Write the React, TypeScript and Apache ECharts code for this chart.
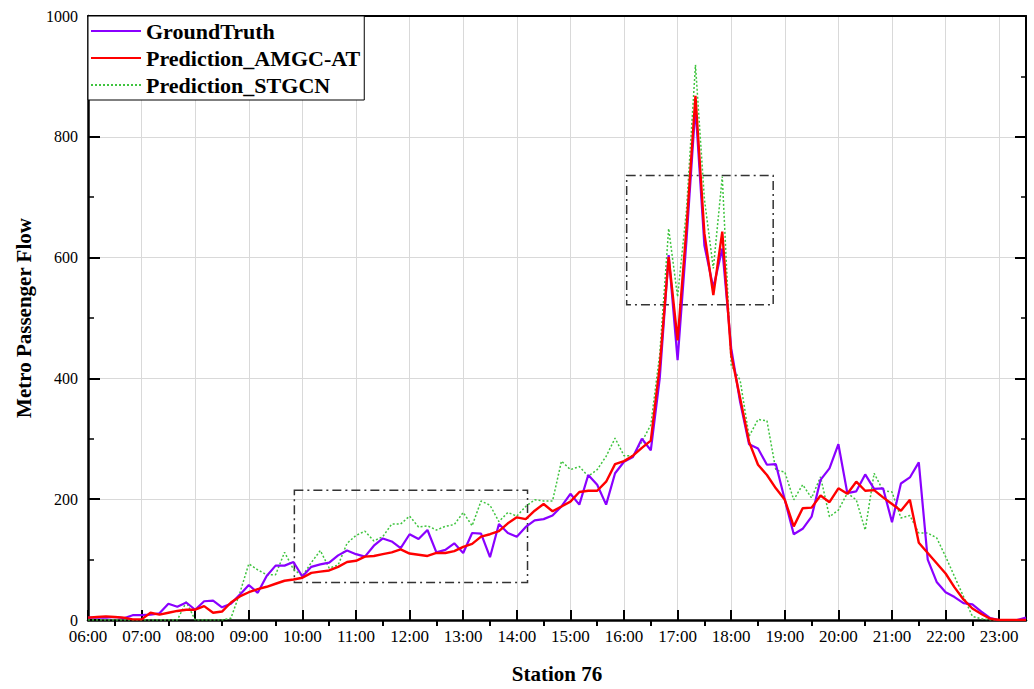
import React, { useEffect, useRef } from "react";
import * as echarts from "echarts";

// 10-minute samples from 06:00 to 23:30 (106 points)
const startMinute = 360;
const stepMinutes = 10;

const groundTruth = [
  4, 4, 4, 5, 3, 8, 8, 9, 11, 27, 22, 29, 17, 31, 32, 21, 27, 42, 58, 45,
  73, 90, 90, 96, 72, 88, 92, 95, 107, 115, 109, 105, 123, 135, 130, 119, 142, 134, 149, 112,
  116, 127, 111, 144, 143, 104, 159, 144, 138, 154, 165, 167, 173, 188, 209, 191, 240, 224, 191, 243,
  262, 270, 300, 281, 400, 604, 430, 630, 850, 620, 550, 615, 450, 361, 291, 284, 257, 258, 199, 142,
  151, 171, 232, 251, 291, 210, 213, 241, 217, 218, 162, 226, 236, 261, 100, 63, 46, 38, 28, 26,
  14, 3, 0, 0, 0, 4,
];

const predAMGCAT = [
  4, 5, 6, 5, 4, 1, 1, 12, 9, 12, 15, 17, 17, 23, 12, 14, 29, 39, 46, 51,
  55, 60, 65, 67, 70, 78, 80, 82, 88, 96, 98, 105, 106, 109, 112, 117, 110, 108, 106, 111,
  111, 114, 121, 126, 138, 142, 147, 160, 170, 167, 181, 192, 180, 188, 196, 212, 214, 214, 229, 258,
  263, 272, 285, 297, 420, 601, 463, 650, 868, 640, 538, 643, 439, 367, 295, 257, 240, 218, 199, 155,
  185, 186, 206, 195, 218, 209, 229, 214, 215, 203, 192, 181, 199, 128, 111, 94, 77, 54, 34, 19,
  10, 2, 0, 0, 0, 0,
];

const predSTGCN = [
  0, 0, 0, 0, 0, 0, 0, 0, 0, 0, 0, 30, 0, 0, 0, 0, 3, 45, 93, 83,
  75, 75, 112, 84, 73, 95, 115, 86, 91, 127, 140, 147, 131, 138, 159, 159, 172, 154, 156, 149,
  155, 158, 178, 156, 197, 190, 163, 178, 172, 188, 199, 197, 197, 263, 249, 254, 238, 249, 271, 301,
  272, 272, 295, 323, 440, 648, 535, 680, 919, 697, 582, 734, 422, 397, 304, 332, 330, 248, 245, 199,
  224, 202, 237, 171, 182, 210, 199, 149, 243, 214, 212, 169, 173, 144, 144, 136, 105, 72, 39, 6,
  2, 0, 0, 0, 0, 0,
];

const seriesNames = ["GroundTruth", "Prediction_AMGC-AT", "Prediction_STGCN"];

// dash-dot highlight boxes: [xStartMinute, yTop, xEndMinute, yBottom]
const highlightBoxes = [
  [591, 215, 852, 62],
  [963, 736, 1127, 522],
];

const xMin = 360;
const xMax = 1410;
const halfHourTicks: number[] = [];
for (let m = 390; m < xMax; m += 60) halfHourTicks.push(m);

const fmtTime = (v: number) => {
  const h = Math.floor(v / 60);
  const m = Math.round(v % 60);
  return `${h < 10 ? "0" : ""}${h}:${m < 10 ? "0" : ""}${m}`;
};

const toPairs = (arr: number[]) => arr.map((v, i) => [startMinute + i * stepMinutes, v]);

const FONT = "'Liberation Serif', 'Times New Roman', 'DejaVu Serif', serif";

export default function App() {
  const ref = useRef<HTMLDivElement>(null);

  useEffect(() => {
    if (!ref.current) return;
    const chart = echarts.init(ref.current, undefined, { renderer: "svg" });

    const option: any = {
      animation: false,
      backgroundColor: "#ffffff",
      textStyle: { fontFamily: FONT, color: "#000" },
      grid: { left: 88, right: 8, top: 16, bottom: 60, containLabel: false },
      legend: {
        data: seriesNames,
        orient: "vertical",
        left: 88,
        top: 16,
        backgroundColor: "#ffffff",
        borderColor: "#000",
        borderWidth: 1,
        borderRadius: 0,
        padding: [4, 4, 4, 2],
        itemGap: 5,
        itemWidth: 50,
        itemHeight: 14,
        itemStyle: { opacity: 0 },
        textStyle: { fontFamily: FONT, fontWeight: "bold", fontSize: 22, color: "#000" },
        selectedMode: false,
        z: 10,
      },
      xAxis: [
        {
          type: "value",
          min: xMin,
          max: xMax,
          interval: 60,
          position: "bottom",
          name: "Station 76",
          nameLocation: "middle",
          nameGap: 43,
          nameTextStyle: { fontFamily: FONT, fontWeight: "bold", fontSize: 21, color: "#000" },
          axisLine: { show: true, lineStyle: { color: "#000", width: 2.5 } },
          axisTick: { show: true, inside: true, length: 10, lineStyle: { color: "#000", width: 2 } },
          axisLabel: {
            formatter: (v: number) => fmtTime(v),
            fontFamily: FONT,
            fontSize: 17,
            color: "#000",
            margin: 8,
            showMaxLabel: false,
          },
          splitLine: { show: true, lineStyle: { color: "#d9d9d9", width: 1 } },
        },
        {
          type: "value",
          min: xMin,
          max: xMax,
          position: "bottom",
          axisLine: { show: false },
          axisLabel: { show: false },
          splitLine: { show: false },
          axisTick: {
            show: true,
            inside: false,
            length: 6,
            customValues: halfHourTicks,
            lineStyle: { color: "#000", width: 2 },
          },
        },
        {
          type: "value",
          min: xMin,
          max: xMax,
          interval: 60,
          position: "top",
          axisLine: { show: true, lineStyle: { color: "#000", width: 2 } },
          axisLabel: { show: false },
          splitLine: { show: false },
          axisTick: { show: false },
        },
      ],
      yAxis: [
        {
          type: "value",
          min: 0,
          max: 1000,
          interval: 200,
          position: "left",
          name: "Metro Passenger Flow",
          nameLocation: "middle",
          nameGap: 54,
          nameTextStyle: { fontFamily: FONT, fontWeight: "bold", fontSize: 21, color: "#000" },
          axisLine: { show: true, lineStyle: { color: "#000", width: 2.5 } },
          axisTick: { show: true, inside: true, length: 12, lineStyle: { color: "#000", width: 2 } },
          minorTick: { show: true, splitNumber: 2, length: 6, lineStyle: { color: "#000", width: 1.5 } },
          axisLabel: {
            formatter: (v: number) => String(v),
            fontFamily: FONT,
            fontSize: 16,
            color: "#000",
            margin: 10,
          },
          splitLine: { show: true, lineStyle: { color: "#d9d9d9", width: 1 } },
        },
        {
          type: "value",
          min: 0,
          max: 1000,
          interval: 200,
          position: "right",
          axisLine: { show: true, lineStyle: { color: "#000", width: 2 } },
          axisTick: { show: true, inside: true, length: 11, lineStyle: { color: "#000", width: 2 } },
          minorTick: { show: true, splitNumber: 2, length: 5, lineStyle: { color: "#000", width: 1.5 } },
          axisLabel: { show: false },
          splitLine: { show: false },
        },
      ],
      series: [
        {
          name: seriesNames[2],
          type: "line",
          data: toPairs(predSTGCN),
          symbol: "none",
          lineStyle: { color: "#3fc43f", width: 1.5, type: [2, 2] },
          itemStyle: { color: "#3fc43f" },
          z: 2,
        },
        {
          name: seriesNames[0],
          type: "line",
          data: toPairs(groundTruth),
          symbol: "none",
          lineStyle: { color: "#8a00ff", width: 2.2 },
          itemStyle: { color: "#8a00ff" },
          z: 3,
        },
        {
          name: seriesNames[1],
          type: "line",
          data: toPairs(predAMGCAT),
          symbol: "none",
          lineStyle: { color: "#ff0000", width: 2.4 },
          itemStyle: { color: "#ff0000" },
          z: 4,
          markArea: {
            silent: true,
            itemStyle: {
              color: "rgba(0,0,0,0)",
              borderColor: "#333",
              borderWidth: 1.5,
              borderType: [9, 4, 2, 4],
            },
            data: highlightBoxes.map((b) => [{ coord: [b[0], b[1]] }, { coord: [b[2], b[3]] }]),
          },
        },
      ],
    };

    chart.setOption(option);
    return () => chart.dispose();
  }, []);

  return (
    <div
      ref={ref}
      style={{ position: "fixed", left: 0, top: 0, width: 1034, height: 689, background: "#fff" }}
    />
  );
}
